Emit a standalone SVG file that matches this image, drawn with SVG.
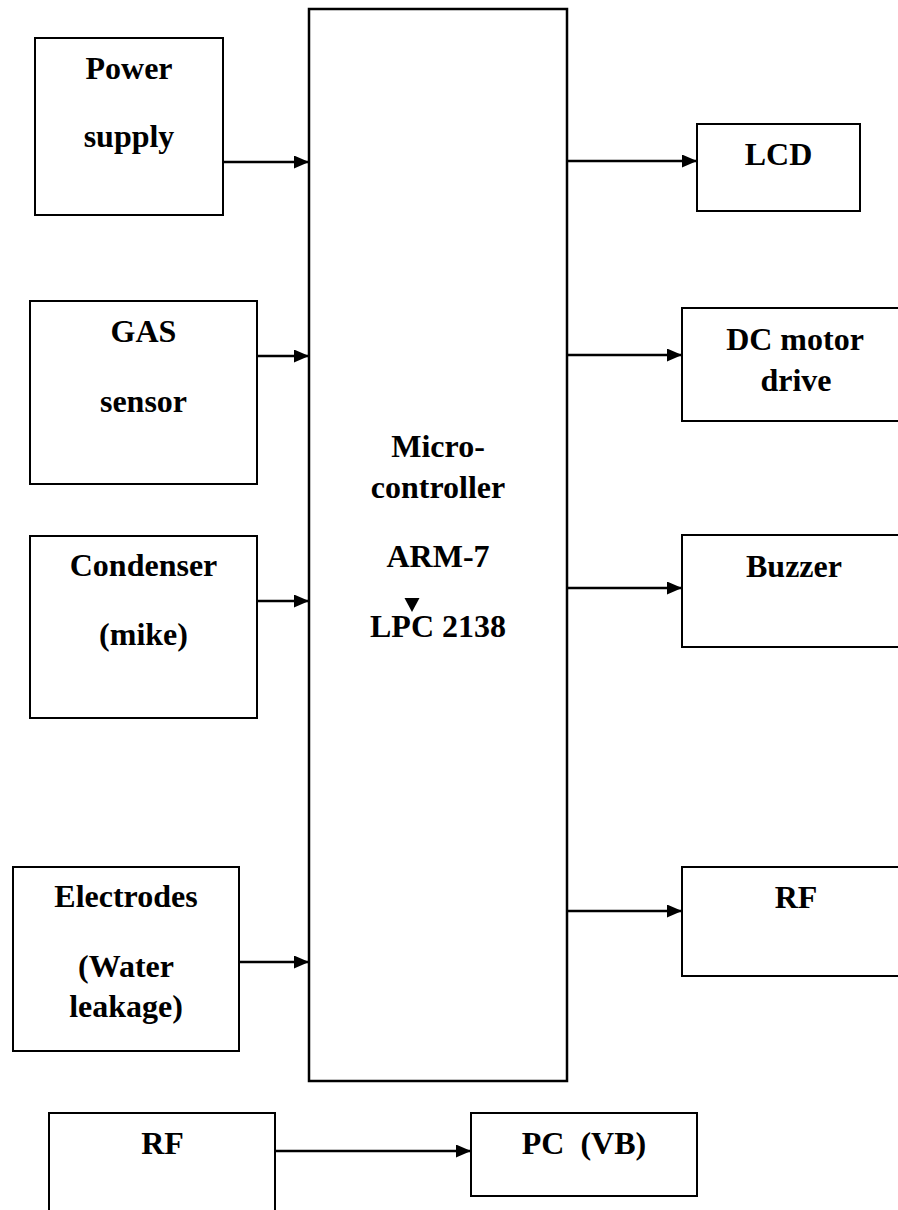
<svg xmlns="http://www.w3.org/2000/svg" width="898" height="1210" viewBox="0 0 898 1210">
<style>
.box{fill:#fff;stroke:#000;stroke-width:2}
.main{fill:#fff;stroke:#000;stroke-width:2.5}
.t{font-family:"Liberation Serif","Times New Roman",serif;font-weight:bold;font-size:32px;fill:#000;text-anchor:middle;white-space:pre}
.c{stroke:#000;stroke-width:2.5;fill:none;marker-end:url(#ah)}
</style>
<defs>
<marker id="ah" markerUnits="userSpaceOnUse" markerWidth="16" markerHeight="14" refX="15" refY="6.5" orient="auto">
<path d="M0,0 L15,6.5 L0,13 z" fill="#000"/>
</marker>
</defs>
<g id="main-mcu">
<rect class="main" x="309" y="9" width="258" height="1072"/>
<text class="t" x="438" y="457">Micro-</text>
<text class="t" x="438" y="498">controller</text>
<text class="t" x="438" y="567">ARM-7</text>
<polygon points="404.5,598 419.5,598 412,612" fill="#000"/>
<text class="t" x="438" y="637">LPC 2138</text>
</g>
<g id="power-supply">
<rect class="box" x="35" y="38" width="188" height="177"/>
<text class="t" x="129" y="79">Power</text>
<text class="t" x="129" y="147">supply</text>
</g>
<g id="gas-sensor">
<rect class="box" x="30" y="301" width="227" height="183"/>
<text class="t" x="143.5" y="342">GAS</text>
<text class="t" x="143.5" y="412">sensor</text>
</g>
<g id="condenser">
<rect class="box" x="30" y="536" width="227" height="182"/>
<text class="t" x="143.5" y="576">Condenser</text>
<text class="t" x="143.5" y="645">(mike)</text>
</g>
<g id="electrodes">
<rect class="box" x="13" y="867" width="226" height="184"/>
<text class="t" x="126" y="907">Electrodes</text>
<text class="t" x="126" y="977">(Water</text>
<text class="t" x="126" y="1017">leakage)</text>
</g>
<g id="lcd">
<rect class="box" x="697" y="124" width="163" height="87"/>
<text class="t" x="778.5" y="165">LCD</text>
</g>
<g id="dc-motor">
<rect class="box" x="682" y="308" width="230" height="113"/>
<text class="t" x="795" y="350">DC motor</text>
<text class="t" x="796" y="391">drive</text>
</g>
<g id="buzzer">
<rect class="box" x="682" y="535" width="230" height="112"/>
<text class="t" x="794" y="577">Buzzer</text>
</g>
<g id="rf-tx">
<rect class="box" x="682" y="867" width="230" height="109"/>
<text class="t" x="796" y="908">RF</text>
</g>
<g id="rf-rx">
<rect class="box" x="49" y="1113" width="226" height="110"/>
<text class="t" x="162.5" y="1154">RF</text>
</g>
<g id="pc-vb">
<rect class="box" x="471" y="1113" width="226" height="83"/>
<text class="t" x="584" y="1154">PC  (VB)</text>
</g>
<g id="connectors">
<line class="c" x1="223" y1="162" x2="309" y2="162"/>
<line class="c" x1="257" y1="356" x2="309" y2="356"/>
<line class="c" x1="257" y1="601" x2="309" y2="601"/>
<line class="c" x1="239" y1="962" x2="309" y2="962"/>
<line class="c" x1="567" y1="161" x2="697" y2="161"/>
<line class="c" x1="567" y1="355" x2="682" y2="355"/>
<line class="c" x1="567" y1="588" x2="682" y2="588"/>
<line class="c" x1="567" y1="911" x2="682" y2="911"/>
<line class="c" x1="275" y1="1151" x2="471" y2="1151"/>
</g>
</svg>
